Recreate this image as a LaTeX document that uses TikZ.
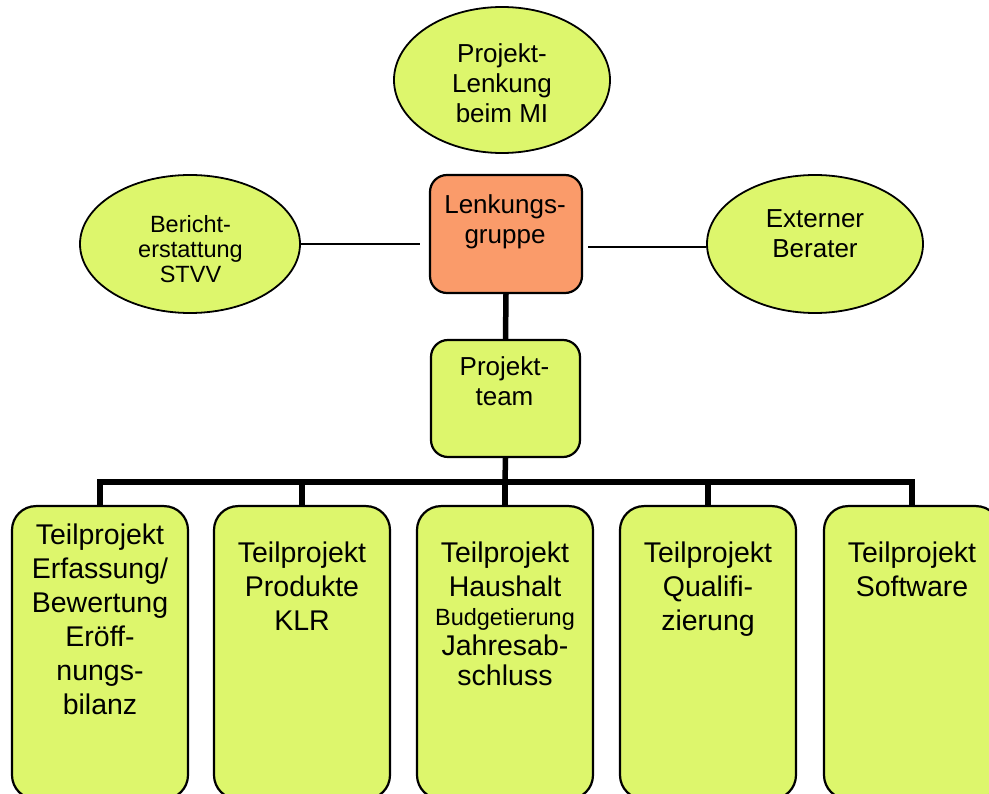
\documentclass[tikz,border=0pt]{standalone}
\usepackage{fontspec}
\setmainfont{Liberation Sans}
\usetikzlibrary{shapes.geometric, positioning}
\definecolor{hellgruen}{RGB}{221,246,108}
\definecolor{lachs}{RGB}{250,155,106}

\begin{document}
\begin{tikzpicture}[x=1pt,y=-1pt,
	oval/.style={ellipse, draw, line width=1.8pt, fill=hellgruen, inner sep=0pt},
	kasten/.style={rectangle, draw, line width=2.2pt, rounded corners=17pt, fill=hellgruen, inner sep=0pt},
	teil/.style={kasten, rounded corners=24pt, minimum width=176pt, minimum height=293pt, anchor=north},
	txt/.style={align=center, inner sep=0pt, anchor=north, font=\fontsize{26}{30}\selectfont},
	klein/.style={txt, font=\fontsize{23.5}{25}\selectfont},
	gross/.style={txt, font=\fontsize{28.5}{34}\selectfont},
	duenn/.style={line width=1.4pt},
	dick/.style={line width=5.5pt}]
	
	\useasboundingbox (0,0) rectangle (989,794);
	\clip (0,0) rectangle (989,794);
	
	% obere Ebene
	\node (mi) [oval, minimum width=216pt, minimum height=146pt] at (502,80) {};
	\node (bs) [oval, minimum width=220pt, minimum height=138pt] at (190,244) {};
	\node (eb) [oval, minimum width=216pt, minimum height=138pt] at (815,244) {};
	\node (lg) [kasten, fill=lachs, minimum width=152pt, minimum height=118pt] at (506,234) {};
	\node (pt) [kasten, minimum width=149pt, minimum height=117pt] at (505.5,398.5) {};
	
	\node (mitxt) [txt] at (502,43) {Projekt-\\Lenkung\\beim MI};
	\node (bstxt) [klein] at (190.5,215) {Bericht-\\erstattung\\STVV};
	\node (ebtxt) [txt] at (815,209) {Externer\\Berater};
	\node (lgtxt) [txt] at (505,194) {Lenkungs-\\gruppe};
	\node (pttxt) [txt] at (504.5,356) {Projekt-\\team};
	
	% Teilprojekte
	\foreach \i/\x in {1/100, 2/302, 3/505, 4/708, 5/912}
		\node (tp\i) [teil] at (\x,505) {};
	
	\node (tp1txt) [gross] at (100,524) {Teilprojekt\\Erfassung/\\Bewertung\\Eröff-\\nungs-\\bilanz};
	\node (tp2txt) [gross] at (302,542) {Teilprojekt\\Produkte\\KLR};
	\node (tp3txt) [gross] at (505,542) {Teilprojekt\\Haushalt\\[-5pt]{\fontsize{23.5}{27}\selectfont Budgetierung}\\[-4pt]Jahresab-\\[-4pt]schluss};
	\node (tp4txt) [gross] at (708,542) {Teilprojekt\\Qualifi-\\zierung};
	\node (tp5txt) [gross] at (912,542) {Teilprojekt\\Software};
	
	% Verbindungen
	\coordinate (lgl) at (420,244);
	\coordinate (lgr) at (588,247);
	\coordinate (bus) at (505,482);
	
	\draw [duenn] (bs.east) -- (lgl);
	\draw [duenn] (lgr) -- (lgr -| eb.west);
	\draw [dick] (lg.south) -- (pt.north);
	\draw [dick] (pt.south) -- (bus);
	\foreach \i in {1,...,5}
		\draw [dick] (tp\i.north) |- (bus);
	
\end{tikzpicture}
\end{document}
